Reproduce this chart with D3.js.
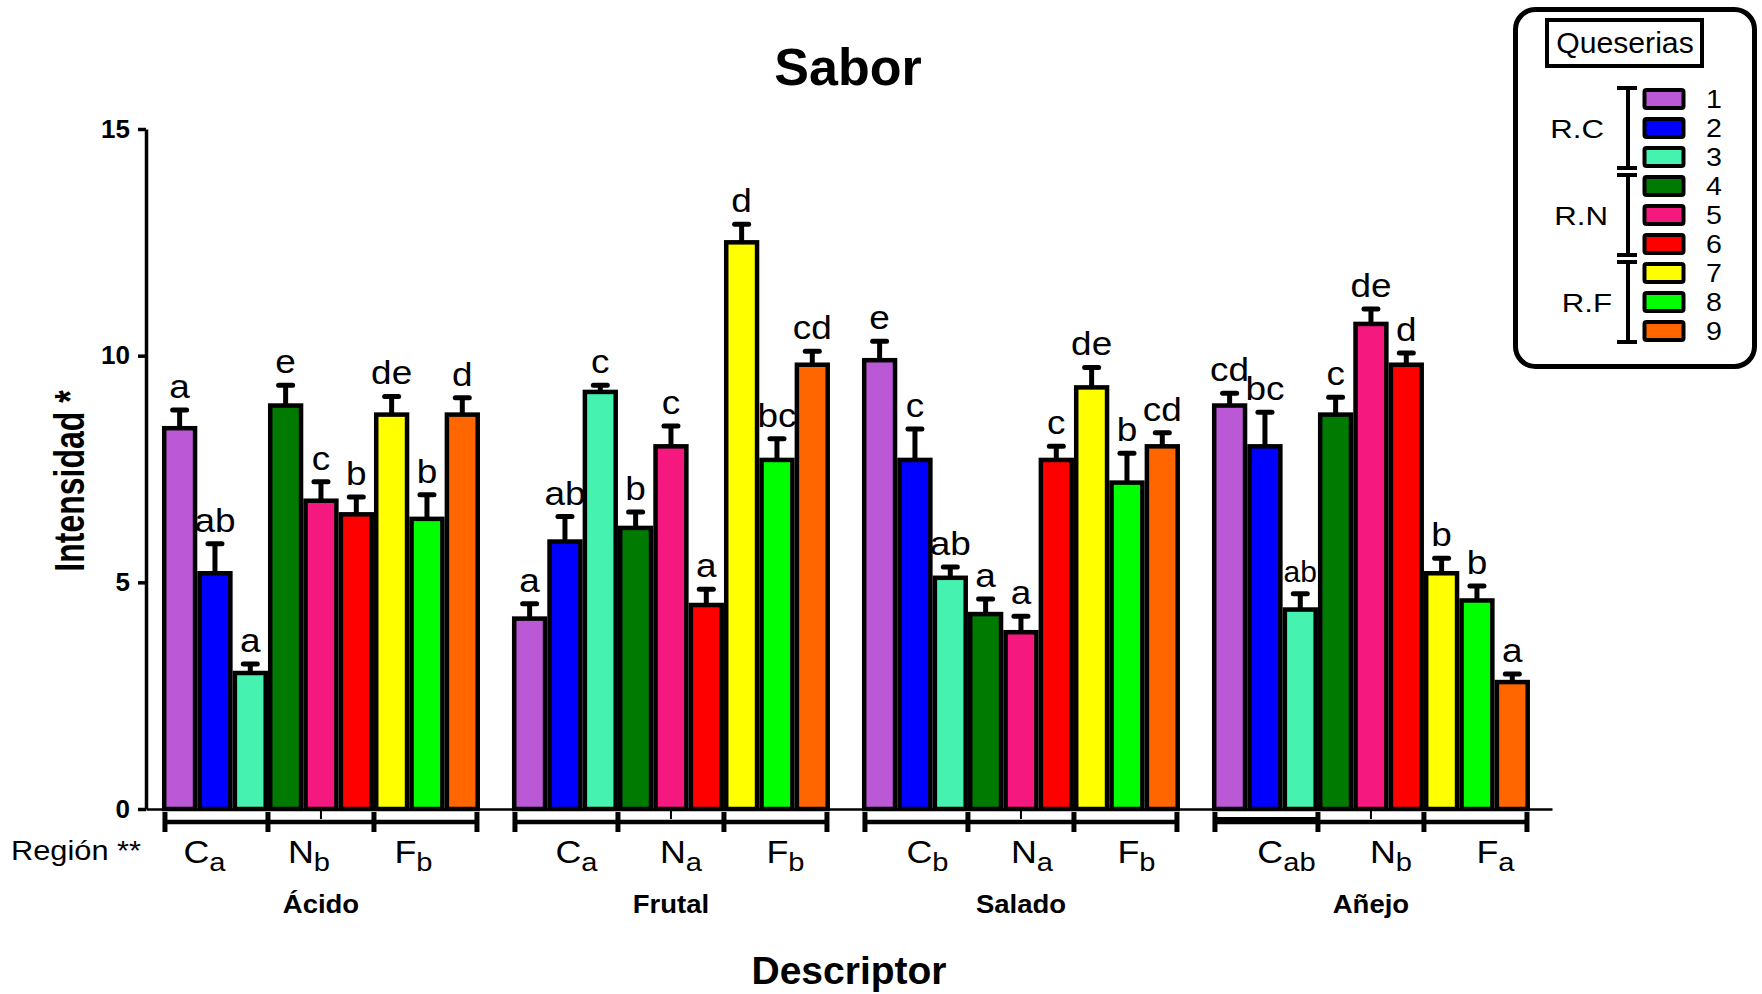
<!DOCTYPE html>
<html>
<head>
<meta charset="utf-8">
<script src="https://cdn.jsdelivr.net/npm/d3@7/dist/d3.min.js"></script>
<style>
  html, body { margin: 0; padding: 0; background: #fff; }
  svg { display: block; }
  text { font-family: "Liberation Sans", Arial, Helvetica, sans-serif; fill: #000; }
</style>
</head>
<body>
<svg id="chart" width="1762" height="994"></svg>
<script>
// Descriptores de sabor (grupos del eje X) y queserías (barras de cada grupo)
const descriptors = ["Ácido", "Frutal", "Salado", "Añejo"];
const queserias = ["1", "2", "3", "4", "5", "6", "7", "8", "9"];
const colors = ["#BA58D6", "#0000FF", "#45F2B0", "#007A00", "#F5187F",
                "#FF0000", "#FFFF00", "#00FF00", "#FF6600"];

// Intensidad media por quesería
const meanAcido  = [8.4, 5.2, 3.0, 8.9, 6.8, 6.5, 8.7, 6.4, 8.7];
const meanFrutal = [4.2, 5.9, 9.2, 6.2, 8.0, 4.5, 12.5, 7.7, 9.8];
const meanSalado = [9.9, 7.7, 5.1, 4.3, 3.9, 7.7, 9.3, 7.2, 8.0];
const meanAnejo  = [8.9, 8.0, 4.4, 8.7, 10.7, 9.8, 5.2, 4.6, 2.8];

// Error estándar (solo se dibuja hacia arriba)
const errAcido  = [0.40, 0.65, 0.20, 0.45, 0.42, 0.38, 0.40, 0.53, 0.37];
const errFrutal = [0.33, 0.55, 0.15, 0.35, 0.45, 0.35, 0.40, 0.47, 0.30];
const errSalado = [0.42, 0.68, 0.24, 0.33, 0.35, 0.30, 0.44, 0.65, 0.30];
const errAnejo  = [0.27, 0.75, 0.35, 0.38, 0.33, 0.26, 0.33, 0.32, 0.18];

// Letras de significancia entre queserías
const letAcido  = ["a", "ab", "a", "e", "c", "b", "de", "b", "d"];
const letFrutal = ["a", "ab", "c", "b", "c", "a", "d", "bc", "cd"];
const letSalado = ["e", "c", "ab", "a", "a", "c", "de", "b", "cd"];
const letAnejo  = ["cd", "bc", "ab", "c", "de", "d", "b", "b", "a"];

// Regiones y sus letras de significancia por descriptor
const regions = ["C", "N", "F"];
const regionLetters = [
  ["a", "b", "b"],
  ["a", "a", "b"],
  ["b", "a", "b"],
  ["ab", "b", "a"]
];
const regionNames = ["R.C", "R.N", "R.F"];
const yTicks = [0, 5, 10, 15];

const means = [meanAcido, meanFrutal, meanSalado, meanAnejo];
const errs = [errAcido, errFrutal, errSalado, errAnejo];
const lets = [letAcido, letFrutal, letSalado, letAnejo];

// Desplazamiento horizontal de las etiquetas de región en cada grupo
const regionLabelShift = [-12, 10, 11, 20];

const svg = d3.select("#chart");

const x0 = d3.scaleBand().domain(descriptors).range([146, 1552])
  .paddingInner(0.0914).paddingOuter(0.0543).align(0.42);
const x1 = d3.scaleBand().domain(queserias).range([0, x0.bandwidth()]);
const y = d3.scaleLinear().domain([0, 15]).range([809, 129]);
const color = d3.scaleOrdinal().domain(queserias).range(colors);

// Texto con la tipografía algo ensanchada
function wideText(parent, x, yy, sx, anchor) {
  return parent.append("text")
    .attr("transform", `translate(${x},${yy}) scale(${sx},1)`)
    .attr("text-anchor", anchor || "middle");
}

// Título
svg.append("text").attr("x", 848).attr("y", 85).attr("text-anchor", "middle")
  .style("font-size", "52px").style("font-weight", "bold").text("Sabor");

// Barras agrupadas
const bw = 4.5;
descriptors.forEach((d, gi) => {
  const g = svg.append("g").attr("transform", `translate(${x0(d)},0)`);
  queserias.forEach((q, i) => {
    const v = means[gi][i], e = errs[gi][i];
    const cx = x1(q) + x1.bandwidth() / 2;
    // barra de error
    g.append("line").attr("x1", cx).attr("x2", cx)
      .attr("y1", y(v)).attr("y2", y(v + e))
      .attr("stroke", "#000").attr("stroke-width", 5);
    g.append("line").attr("x1", cx - 7).attr("x2", cx + 7)
      .attr("y1", y(v + e)).attr("y2", y(v + e))
      .attr("stroke", "#000").attr("stroke-width", 5).attr("stroke-linecap", "round");
    g.append("rect")
      .attr("x", x1(q) + bw / 2).attr("width", x1.bandwidth() - bw)
      .attr("y", y(v)).attr("height", y(0) - y(v))
      .attr("fill", color(q)).attr("stroke", "#000").attr("stroke-width", bw);
    const lab = lets[gi][i];
    const narrow = lab.length > 1 && x1.bandwidth() < 40 && gi === 3 && i === 2;
    wideText(g, cx, y(v + e) - 12, narrow ? 1.0 : 1.12)
      .style("font-size", narrow ? "30px" : "33px").text(lab);
  });
});

// Eje Y
const yAxis = svg.append("g").attr("transform", "translate(146,0)")
  .call(d3.axisLeft(y).tickValues(yTicks).tickSize(8).tickSizeOuter(0).tickPadding(8));
yAxis.select(".domain").attr("stroke", "#000").attr("stroke-width", 3.5);
yAxis.selectAll(".tick line").attr("stroke", "#000").attr("stroke-width", 3.5);
yAxis.selectAll(".tick text").style("font-size", "26px").style("font-weight", "bold")
  .style("font-family", "'Liberation Sans', Arial, sans-serif").attr("fill", "#000");

// Eje X
const xAxis = svg.append("g").attr("transform", "translate(0,809)")
  .call(d3.axisBottom(x0).tickSize(10).tickSizeOuter(0).tickFormat(""));
xAxis.select(".domain").attr("stroke", "#000").attr("stroke-width", 2.5);
xAxis.selectAll(".tick line").attr("stroke", "#000").attr("stroke-width", 2);

svg.append("text").attr("transform", "translate(84,481) rotate(-90) scale(1,1.3)")
  .attr("text-anchor", "middle").style("font-size", "32px").style("font-weight", "bold")
  .text("Intensidad *");

// Corchetes de región bajo cada descriptor
wideText(svg, 11, 860, 1.14, "start").style("font-size", "27px").text("Región **");
descriptors.forEach((d, gi) => {
  const start = x0(d), w = x0.bandwidth();
  const xs = [0, 1, 2, 3].map(k => start + w * k / 3 + (k === 0 ? 3 : k === 3 ? -3 : 0));
  svg.append("line").attr("x1", xs[0]).attr("x2", xs[3]).attr("y1", 822).attr("y2", 822)
    .attr("stroke", "#000").attr("stroke-width", 4.5);
  if (gi === 3) {
    svg.append("line").attr("x1", xs[0]).attr("x2", xs[1]).attr("y1", 820).attr("y2", 820)
      .attr("stroke", "#000").attr("stroke-width", 6);
  }
  xs.forEach(xx => svg.append("rect").attr("x", xx - 2.5).attr("y", 812)
    .attr("width", 5).attr("height", 20).attr("fill", "#000"));
  regions.forEach((r, k) => {
    const t = wideText(svg, (xs[k] + xs[k + 1]) / 2 + regionLabelShift[gi], 863, 1.12)
      .style("font-size", "32px");
    t.append("tspan").text(r);
    t.append("tspan").attr("dy", 8).style("font-size", "26px").text(regionLetters[gi][k]);
  });
  wideText(svg, start + w / 2, 913, 1.1).style("font-size", "25px")
    .style("font-weight", "bold").text(d);
});

svg.append("text").attr("x", 849).attr("y", 984).attr("text-anchor", "middle")
  .style("font-size", "39px").style("font-weight", "bold").text("Descriptor");

// Leyenda
const leg = svg.append("g");
leg.append("rect").attr("x", 1515.5).attr("y", 9.5).attr("width", 239).attr("height", 357)
  .attr("rx", 20).attr("fill", "#fff").attr("stroke", "#000").attr("stroke-width", 5);
leg.append("rect").attr("x", 1547).attr("y", 20).attr("width", 155).attr("height", 46)
  .attr("fill", "#fff").attr("stroke", "#000").attr("stroke-width", 4);
wideText(leg, 1625, 53, 1.04).style("font-size", "29px").text("Queserias");

const ly = d3.scaleLinear().domain([0, 8]).range([99, 331]);
queserias.forEach((q, i) => {
  leg.append("rect").attr("x", 1644.5).attr("y", ly(i) - 9).attr("width", 39).attr("height", 18)
    .attr("rx", 2).attr("fill", color(q)).attr("stroke", "#000").attr("stroke-width", 4);
  wideText(leg, 1706, ly(i) + 9, 1.1, "start").style("font-size", "26px").text(q);
});
regionNames.forEach((r, k) => {
  const top = ly(3 * k) - 11, bot = ly(3 * k + 2) + 11;
  leg.append("line").attr("x1", 1628).attr("x2", 1628).attr("y1", top).attr("y2", bot)
    .attr("stroke", "#000").attr("stroke-width", 4);
  [top, bot].forEach(yy => leg.append("line").attr("x1", 1617).attr("x2", 1637)
    .attr("y1", yy).attr("y2", yy).attr("stroke", "#000").attr("stroke-width", 4));
  wideText(leg, 1604 + 4 * k, ly(3 * k + 1) + 10, 1.2, "end")
    .style("font-size", "26px").text(r);
});
</script>
</body>
</html>
